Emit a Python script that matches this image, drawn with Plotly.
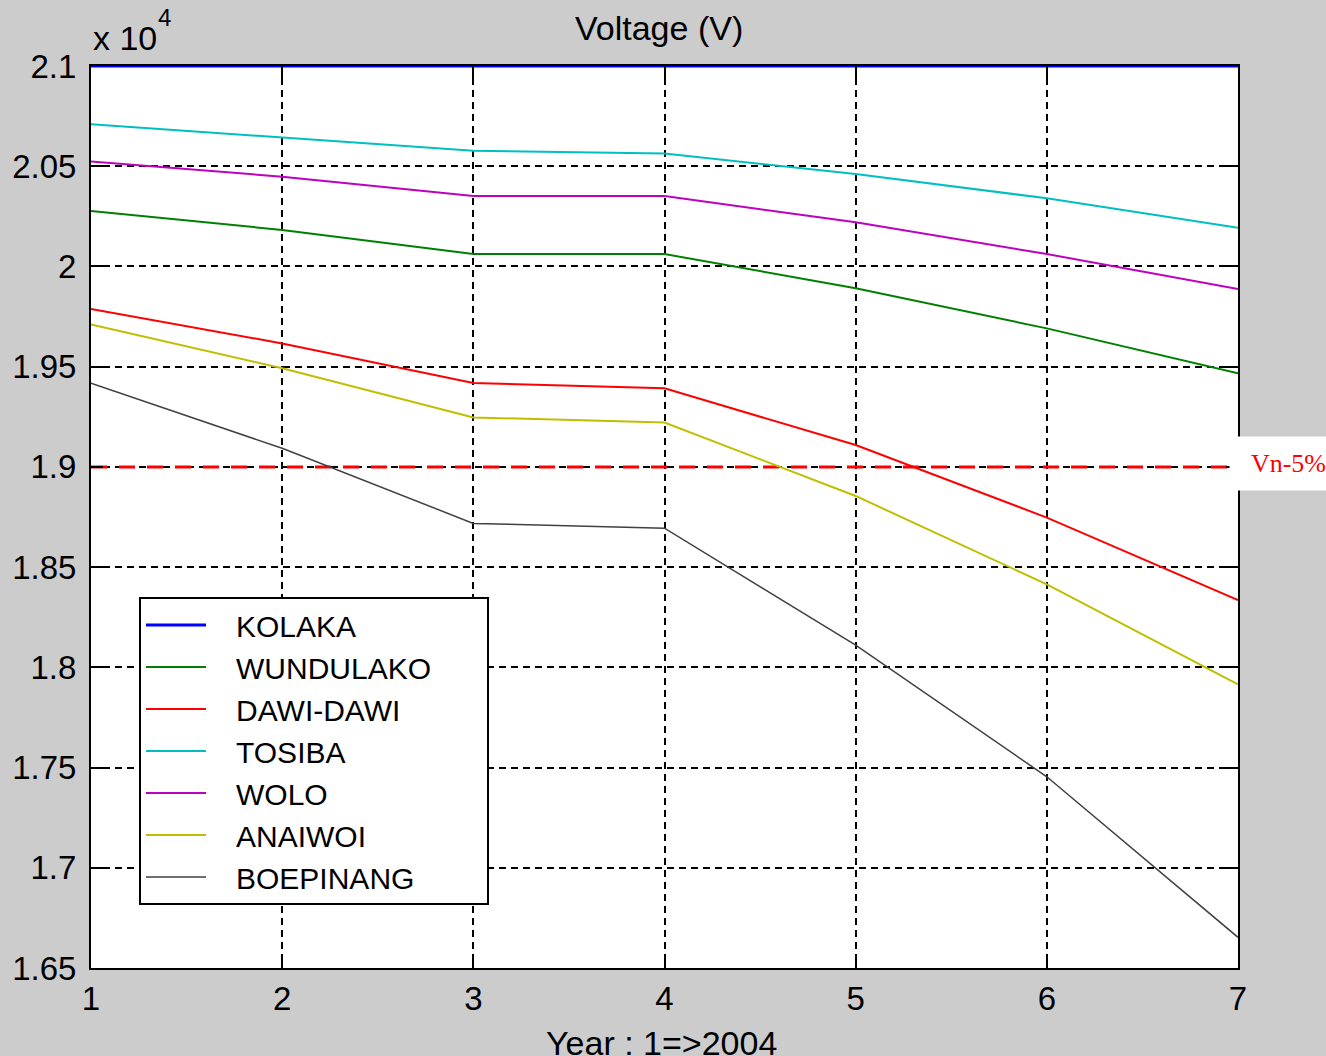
import plotly.graph_objects as go

years = [1, 2, 3, 4, 5, 6, 7]
kolaka = [21000, 21000, 21000, 21000, 21000, 21000, 21000]
wundulako = [20277, 20182, 20062, 20062, 19891, 19691, 19467]
dawi_dawi = [19788, 19616, 19418, 19392, 19109, 18747, 18336]
tosiba = [20709, 20642, 20577, 20564, 20461, 20340, 20193]
wolo = [20523, 20448, 20351, 20351, 20220, 20062, 19887]
anaiwoi = [19711, 19492, 19247, 19221, 18855, 18414, 17915]
boepinang = [19417, 19093, 18718, 18694, 18111, 17454, 16653]
vn_minus_5 = 19000

y_tickvals = [16500, 17000, 17500, 18000, 18500, 19000, 19500, 20000, 20500, 21000]
y_ticktext = ["1.65", "1.7", "1.75", "1.8", "1.85", "1.9", "1.95", "2", "2.05", "2.1"]

series = [
    ("KOLAKA", kolaka, "#0000ff", 3),
    ("WUNDULAKO", wundulako, "#008000", 2),
    ("DAWI-DAWI", dawi_dawi, "#ff0000", 2),
    ("TOSIBA", tosiba, "#00bfbf", 2),
    ("WOLO", wolo, "#bf00bf", 2),
    ("ANAIWOI", anaiwoi, "#bfbf00", 2),
    ("BOEPINANG", boepinang, "#404040", 1.5),
]

FONT = "Liberation Sans, Arial, sans-serif"
NB = "\u00a0"

fig = go.Figure()
fig.add_trace(go.Scatter(
    x=[years[0], years[-1]], y=[vn_minus_5, vn_minus_5], mode="lines",
    line=dict(color="#ff0000", width=3, dash="16px,12px"),
    showlegend=False, hoverinfo="skip"))
for name, vals, color, w in series:
    label = NB * 3 + name
    if name == "WUNDULAKO":
        label += NB * 6
    fig.add_trace(go.Scatter(x=years, y=vals, mode="lines", name=label,
                             line=dict(color=color, width=w)))

axis_common = dict(
    showline=True, linecolor="black", linewidth=2, mirror="ticks",
    ticks="inside", ticklen=12, tickwidth=1.5, tickcolor="black",
    showgrid=True, gridcolor="black", gridwidth=1.8, griddash="7px,5px",
    zeroline=False, tickfont=dict(family=FONT, size=33, color="black"),
)

fig.update_xaxes(range=[1, 7], tickvals=years, ticktext=[str(v) for v in years],
                 ticklabelstandoff=0, **axis_common)
fig.update_yaxes(range=[16500, 21000], tickvals=y_tickvals, ticktext=y_ticktext,
                 ticklabelstandoff=6, **axis_common)

fig.update_layout(
    width=1326, height=1056,
    margin=dict(l=91, r=88, t=66, b=88),
    paper_bgcolor="#cccccc", plot_bgcolor="white",
    font=dict(family=FONT, color="black"),
    showlegend=True,
    legend=dict(x=(139 - 91) / 1147, y=(968 - 597) / 902, xanchor="left", yanchor="top",
                bgcolor="white", bordercolor="black", borderwidth=2,
                font=dict(family=FONT, size=30, color="black"),
                itemwidth=60, tracegroupgap=0),
    annotations=[
        dict(text="Voltage (V)", xref="paper", yref="paper", x=(659 - 91) / 1147, y=1 + 38 / 902,
             xanchor="center", yanchor="middle", showarrow=False,
             font=dict(family=FONT, size=34, color="black")),
        dict(text="x 10", xref="paper", yref="paper", x=0.0, y=1 + (66 - 38) / 902,
             xanchor="left", yanchor="middle", showarrow=False,
             font=dict(family=FONT, size=34, color="black")),
        dict(text="4", xref="paper", yref="paper", x=(156 - 91) / 1147, y=1 + (66 - 18) / 902,
             xanchor="left", yanchor="middle", showarrow=False,
             font=dict(family=FONT, size=24, color="black")),
        dict(text="Year : 1=>2004", xref="paper", yref="paper", x=(661 - 91) / 1147, y=-54 / 902,
             xanchor="center", yanchor="top", showarrow=False,
             font=dict(family=FONT, size=34, color="black")),
        dict(text="Vn-5%", xref="paper", yref="y", x=(1229 - 91) / 1147, y=vn_minus_5 + 15,
             xanchor="left", yanchor="middle", showarrow=False, align="right",
             width=95, height=51, bgcolor="white", borderpad=1,
             font=dict(family="Liberation Serif, Times New Roman, serif", size=26, color="#ff0000")),
    ],
)

fig.write_html("out.html", config={"displayModeBar": False},
               post_script="document.body.style.margin='0';document.body.style.padding='0';")
